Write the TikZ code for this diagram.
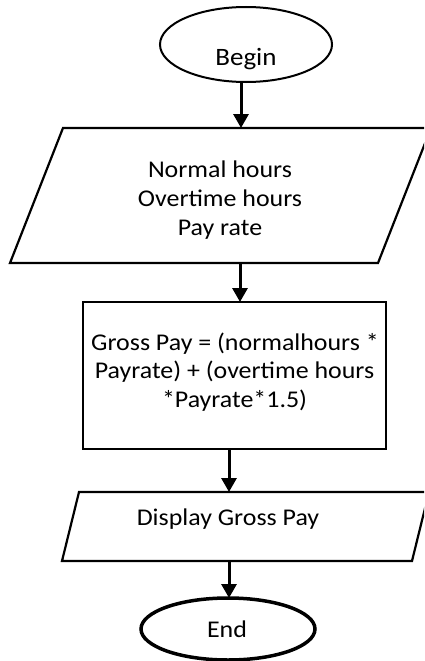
\documentclass[tikz,border=0pt]{standalone}
\usepackage{fontspec}
\setmainfont{Carlito}[FakeStretch=1.08]
\usetikzlibrary{arrows.meta,shapes.geometric}
\begin{document}
\begin{tikzpicture}[x=1pt,y=-1pt,
  outline/.style={draw, line width=2.2pt, line join=miter},
  box/.style={inner sep=0pt, outer sep=0pt},
  arr/.style={line width=3pt, -{Triangle[width=15pt,length=14pt]}},
  txt/.style={font=\fontsize{24}{28.5}\selectfont, inner sep=0pt, anchor=base}]
\useasboundingbox (0,0) rectangle (424,661);
\clip (0,0) rectangle (424,661);
% Begin
\node[ellipse, draw, line width=2pt, minimum width=172pt, minimum height=75pt, box] (begin) at (246,44.5) {};
\node[txt, font=\fontsize{25}{28.5}\selectfont] (tbegin) at (246,66) {Begin};
% Input parallelogram
\node[box, minimum width=421pt, minimum height=135pt] (p1) at (220.5,195.5) {};
\draw[outline] ([xshift=53pt]p1.north west) -- (p1.north east) -- ([xshift=-53pt]p1.south east) -- (p1.south west) -- cycle;
\node[txt] (t1a) at (220,177) {Normal hours};
\node[txt] (t1b) at (220,206) {Overtime hours};
\node[txt] (t1c) at (220,235) {Pay rate};
% Calculation
\node[outline, rectangle, box, minimum width=303pt, minimum height=147pt] (calc) at (234.5,375.5) {};
\node[txt] (t2a) at (235,350) {Gross Pay = (normalhours *};
\node[txt] (t2b) at (234.5,378.5) {Payrate) + (overtime hours};
\node[txt] (t2c) at (234.5,407) {*Payrate*1.5)};
% Display parallelogram
\node[box, minimum width=367pt, minimum height=69pt] (disp) at (245.5,526.5) {};
\draw[outline] ([xshift=17pt]disp.north west) -- (disp.north east) -- ([xshift=-17pt]disp.south east) -- (disp.south west) -- cycle;
\node[txt] (t3) at (228,525) {Display Gross Pay};
% End
\node[ellipse, draw, line width=3.5pt, minimum width=174pt, minimum height=62pt, box] (end) at (228,629) {};
\node[txt] (tend) at (227,637) {End};
% Arrows
\coordinate (ax1) at (241,0);
\coordinate (ax2) at (240,0);
\coordinate (ax3) at (229,0);
\draw[arr] (begin.south -| ax1) -- (p1.north -| ax1);
\draw[arr] (p1.south -| ax2) -- (calc.north -| ax2);
\draw[arr] (calc.south -| ax3) -- (disp.north -| ax3);
\draw[arr] (disp.south -| ax3) -- (end.north -| ax3);
\end{tikzpicture}
\end{document}
